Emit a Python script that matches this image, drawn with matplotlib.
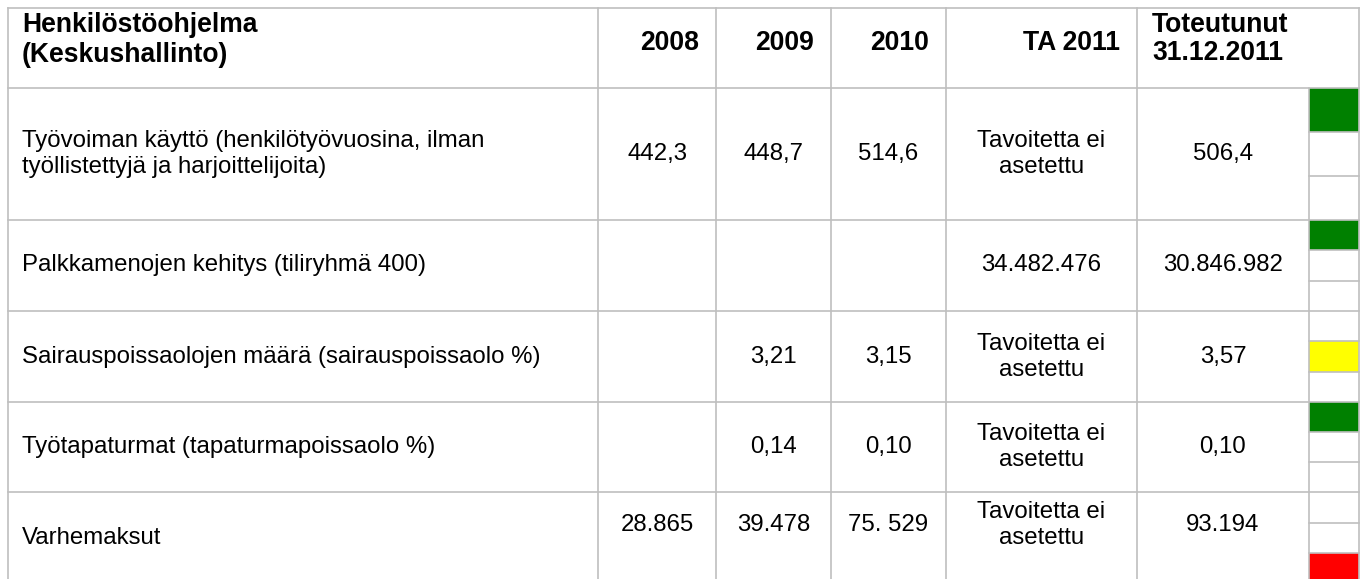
import matplotlib.pyplot as plt
from matplotlib.patches import Rectangle

plt.rcParams['font.family'] = ['Liberation Sans', 'DejaVu Sans']

# table content
header_first = "Henkilöstöohjelma\n(Keskushallinto)"
years = ["2008", "2009", "2010", "TA 2011"]
header_last = "Toteutunut\n31.12.2011"

labels = ["Työvoiman käyttö (henkilötyövuosina, ilman\ntyöllistettyjä ja harjoittelijoita)",
          "Palkkamenojen kehitys (tiliryhmä 400)",
          "Sairauspoissaolojen määrä (sairauspoissaolo %)",
          "Työtapaturmat (tapaturmapoissaolo %)",
          "Varhemaksut"]
v2008 = ["442,3", "", "", "", "28.865"]
v2009 = ["448,7", "", "3,21", "0,14", "39.478"]
v2010 = ["514,6", "", "3,15", "0,10", "75. 529"]
ta2011 = ["Tavoitetta ei\nasetettu", "34.482.476", "Tavoitetta ei\nasetettu",
          "Tavoitetta ei\nasetettu", "Tavoitetta ei\nasetettu"]
toteutunut = ["506,4", "30.846.982", "3,57", "0,10", "93.194"]
# traffic light: which of the three slots is lit (0 top .. 2 bottom)
light_slot = [0, 0, 1, 0, 2]
light_color = ["#008000", "#008000", "#FFFF00", "#008000", "#FF0000"]

# layout in pixels
W, H = 1362, 579
col_x = [8, 598, 716, 831, 946, 1137, 1309, 1359]
row_y = [8, 88, 220, 311, 402, 492, 584]
label_y = [154, 265, 357, 447, 538]
value_y = [154, 265, 357, 447, 525]
grid = "#BFBFBF"
lw = 1.2
fs_head = 19.1
fs_body = 17.3

fig = plt.figure(figsize=(W / 100, H / 100), dpi=100)
ax = fig.add_axes([0, 0, 1, 1])
ax.set_xlim(0, W)
ax.set_ylim(H, 0)
ax.axis('off')

# traffic light fills
for i, (slot, c) in enumerate(zip(light_slot, light_color)):
    h = (row_y[i + 2] - row_y[i + 1]) / 3
    ax.add_patch(Rectangle((col_x[6], row_y[i + 1] + slot * h), col_x[7] - col_x[6], h,
                           facecolor=c, edgecolor='none', zorder=1))

# grid lines
for y in row_y[:-1]:
    ax.plot([col_x[0], col_x[-1]], [y, y], color=grid, lw=lw, zorder=2)
for x in col_x[:6]:
    ax.plot([x, x], [row_y[0], H + 5], color=grid, lw=lw, zorder=2)
ax.plot([col_x[6], col_x[6]], [row_y[1], H + 5], color=grid, lw=lw, zorder=2)
ax.plot([col_x[7], col_x[7]], [row_y[0], H + 5], color=grid, lw=lw, zorder=2)
for i in range(5):
    h = (row_y[i + 2] - row_y[i + 1]) / 3
    for k in (1, 2):
        y = row_y[i + 1] + k * h
        ax.plot([col_x[6], col_x[7]], [y, y], color=grid, lw=lw, zorder=2)

# header
ax.text(22, 40, header_first, fontsize=fs_head, fontweight='bold', ha='left', va='center',
        linespacing=1.15)
for j, yr in enumerate(years):
    ax.text(col_x[j + 2] - 17, 43, yr, fontsize=fs_head, fontweight='bold', ha='right', va='center')
ax.text(1152, 39, header_last, fontsize=fs_head, fontweight='bold', ha='left', va='center',
        linespacing=1.15)

# body
for i in range(5):
    ax.text(22, label_y[i], labels[i], fontsize=fs_body, ha='left', va='center', linespacing=1.25)
    for j, col in enumerate([v2008, v2009, v2010, ta2011]):
        cx = (col_x[j + 1] + col_x[j + 2]) / 2
        ax.text(cx, value_y[i], col[i], fontsize=fs_body, ha='center', va='center', linespacing=1.25)
    cx = (col_x[5] + col_x[6]) / 2
    ax.text(cx, value_y[i], toteutunut[i], fontsize=fs_body, ha='center', va='center')

fig.savefig("out.png", dpi=100)
